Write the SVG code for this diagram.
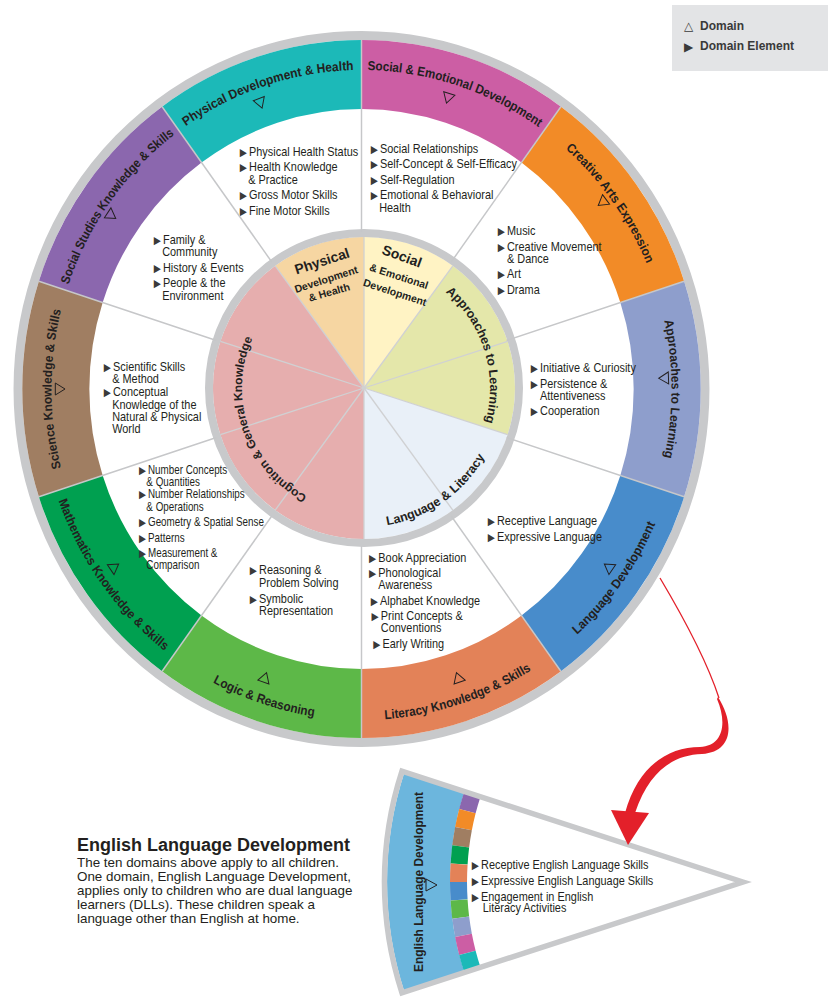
<svg xmlns="http://www.w3.org/2000/svg" width="832" height="1002" viewBox="0 0 832 1002">
<style>
.el{font-family:"Liberation Sans",Arial,sans-serif;font-size:13px;fill:#231f20}
.el12{font-family:"Liberation Sans",Arial,sans-serif;font-size:12px;fill:#231f20}
.b{font-family:"DejaVu Sans",sans-serif;font-size:11px;fill:#3a3a3a}
.rl{font-family:"Liberation Sans",Arial,sans-serif;font-weight:bold;font-size:13px;fill:#231f20}
.pl{font-family:"Liberation Sans",Arial,sans-serif;font-weight:bold;fill:#231f20}
.seg{fill:none;stroke-width:69}
.tri{fill:none;stroke:#231f20;stroke-width:1}
.lg{font-family:"Liberation Sans",Arial,sans-serif;font-weight:bold;font-size:12px;fill:#3a3a3a}
.strip{fill:none;stroke-width:17}
</style>
<defs>
<path id="tri" class="tri" d="M-6,-5 L6,-5 L0,5 Z"/>
<path id="cwArc" d="M0,319 A319,319 0 1 1 0,-319 A319,319 0 1 1 0,319"/>
<path id="ccwArc" d="M0,-331 A331,331 0 1 0 0,331 A331,331 0 1 0 0,-331"/>
<path id="pcw1" d="M0,126 A126,126 0 1 1 0,-126 A126,126 0 1 1 0,126"/>
<path id="pcw2" d="M0,122 A122,122 0 1 1 0,-122 A122,122 0 1 1 0,122"/>
<path id="pccw" d="M0,-139 A139,139 0 1 0 0,139 A139,139 0 1 0 0,-139"/>
</defs>
<rect width="832" height="1002" fill="#fff"/>

<g id="outer-ring" transform="translate(361.5,389) scale(0.972,1)">
<circle r="353.5" fill="none" stroke="#c8c9cb" stroke-width="9"/>
</g>

<g id="core-wheel">
<g id="core-physical">
<path d="M364,388 L275.2,265.8 A151,151 0 0 1 364,237 Z" fill="#F6D6A2"/>
</g>
<g id="core-social">
<path d="M364,388 L364,237 A151,151 0 0 1 452.8,265.8 Z" fill="#FFF3C4"/>
</g>
<g id="core-approaches">
<path d="M364,388 L452.8,265.8 A151,151 0 0 1 507.6,434.7 Z" fill="#E4E7AA"/>
</g>
<g id="core-language">
<path d="M364,388 L507.6,434.7 A151,151 0 0 1 364,539 Z" fill="#E9F0F8"/>
</g>
<g id="core-cognition">
<path d="M364,388 L364,539 A151,151 0 0 1 275.2,265.8 Z" fill="#E6AEAE"/>
</g>
<g stroke="#d0d1d3" stroke-width="1.3">
<line x1="364" y1="388" x2="364" y2="237"/>
<line x1="364" y1="388" x2="452.8" y2="265.8"/>
<line x1="364" y1="388" x2="507.6" y2="341.3"/>
<line x1="364" y1="388" x2="507.6" y2="434.7"/>
<line x1="364" y1="388" x2="452.8" y2="510.2"/>
<line x1="364" y1="388" x2="364" y2="539"/>
<line x1="364" y1="388" x2="275.2" y2="510.2"/>
<line x1="364" y1="388" x2="220.4" y2="434.7"/>
<line x1="364" y1="388" x2="220.4" y2="341.3"/>
<line x1="364" y1="388" x2="275.2" y2="265.8"/>
</g>
<circle cx="364" cy="388" r="155" fill="none" stroke="#c8c9cb" stroke-width="8"/>
<text class="pl" font-size="14" text-anchor="middle" transform="translate(322,261) rotate(-18)" y="5">Physical</text>
<text class="pl" font-size="10.5" text-anchor="middle" transform="translate(326,279) rotate(-18)" y="4">Development</text>
<text class="pl" font-size="10.5" text-anchor="middle" transform="translate(329,292) rotate(-16)" y="4">&amp; Health</text>
<text class="pl" font-size="14" text-anchor="middle" transform="translate(402,256) rotate(20)" y="5">Social</text>
<text class="pl" font-size="10.5" text-anchor="middle" transform="translate(399,276) rotate(18)" y="4">&amp; Emotional</text>
<text class="pl" font-size="10.5" text-anchor="middle" transform="translate(395,292) rotate(18)" y="4">Development</text>
<text class="pl" font-size="12.5" text-anchor="middle" transform="translate(364,388)"><textPath href="#pcw1" startOffset="70.3%">Approaches to Learning</textPath></text>
<text class="pl" font-size="12.5" text-anchor="middle" transform="translate(364,388)"><textPath href="#pccw" startOffset="59.7%">Language &amp; Literacy</textPath></text>
<text class="pl" font-size="12" text-anchor="middle" transform="translate(364,388)"><textPath href="#pcw2" startOffset="19.7%">Cognition &amp; General Knowledge</textPath></text>
</g>

<g id="social-emotional-development">
<g transform="translate(361.5,389) scale(0.972,1)">
<path class="seg" stroke="#CC5EA4" d="M0,-314.5 A314.5,314.5 0 0 1 184.9,-254.4"/>
<text class="rl" text-anchor="middle"><textPath href="#cwArc" startOffset="55%" textLength="188" lengthAdjust="spacingAndGlyphs">Social &amp; Emotional Development</textPath></text>
<use href="#tri" transform="rotate(17) translate(0,-304)"/>
</g>
<g transform="matrix(0.84 0 0 1 60.8 0)">
<text class="el"><tspan class="b" x="369" y="153">▶</tspan><tspan x="380">Social Relationships</tspan></text>
<text class="el"><tspan class="b" x="369" y="168">▶</tspan><tspan x="380">Self-Concept &amp; Self-Efficacy</tspan></text>
<text class="el"><tspan class="b" x="369" y="184">▶</tspan><tspan x="380">Self-Regulation</tspan></text>
<text class="el"><tspan class="b" x="369" y="199">▶</tspan><tspan x="380">Emotional &amp; Behavioral</tspan></text>
<text class="el" x="379" y="212">Health</text>
</g>
</g>

<g id="creative-arts-expression">
<g transform="translate(361.5,389) scale(0.972,1)">
<path class="seg" stroke="#F28B27" d="M184.9,-254.4 A314.5,314.5 0 0 1 299.1,-97.2"/>
<text class="rl" text-anchor="middle"><textPath href="#cwArc" startOffset="65%" textLength="143" lengthAdjust="spacingAndGlyphs">Creative Arts Expression</textPath></text>
<use href="#tri" transform="rotate(53) translate(0,-310)"/>
</g>
<g transform="matrix(0.84 0 0 1 81.12 0)">
<text class="el"><tspan class="b" x="496" y="235">▶</tspan><tspan x="507">Music</tspan></text>
<text class="el"><tspan class="b" x="496" y="251">▶</tspan><tspan x="507">Creative Movement</tspan></text>
<text class="el" x="507" y="263">&amp; Dance</text>
<text class="el"><tspan class="b" x="496" y="278">▶</tspan><tspan x="507">Art</tspan></text>
<text class="el"><tspan class="b" x="496" y="294">▶</tspan><tspan x="507">Drama</tspan></text>
</g>
</g>

<g id="approaches-to-learning">
<g transform="translate(361.5,389) scale(0.972,1)">
<path class="seg" stroke="#8E9ECC" d="M299.1,-97.2 A314.5,314.5 0 0 1 299.1,97.2"/>
<text class="rl" text-anchor="middle"><textPath href="#cwArc" startOffset="75%" textLength="138" lengthAdjust="spacingAndGlyphs">Approaches to Learning</textPath></text>
<use href="#tri" transform="rotate(88) translate(0,-311)"/>
</g>
<g transform="matrix(0.84 0 0 1 86.4 0)">
<text class="el"><tspan class="b" x="529" y="372">▶</tspan><tspan x="540">Initiative &amp; Curiosity</tspan></text>
<text class="el"><tspan class="b" x="529" y="388">▶</tspan><tspan x="540">Persistence &amp;</tspan></text>
<text class="el" x="540" y="400">Attentiveness</text>
<text class="el"><tspan class="b" x="529" y="415">▶</tspan><tspan x="540">Cooperation</tspan></text>
</g>
</g>

<g id="language-development">
<g transform="translate(361.5,389) scale(0.972,1)">
<path class="seg" stroke="#488CCB" d="M299.1,97.2 A314.5,314.5 0 0 1 184.9,254.4"/>
<text class="rl" text-anchor="middle"><textPath href="#ccwArc" startOffset="65%" textLength="138" lengthAdjust="spacingAndGlyphs">Language Development</textPath></text>
<use href="#tri" transform="rotate(125) translate(0,-310)"/>
</g>
<g transform="matrix(0.84 0 0 1 79.52 0)">
<text class="el"><tspan class="b" x="486" y="525">▶</tspan><tspan x="497">Receptive Language</tspan></text>
<text class="el"><tspan class="b" x="486" y="541">▶</tspan><tspan x="497">Expressive Language</tspan></text>
</g>
</g>

<g id="literacy-knowledge-skills">
<g transform="translate(361.5,389) scale(0.972,1)">
<path class="seg" stroke="#E38258" d="M184.9,254.4 A314.5,314.5 0 0 1 0,314.5"/>
<text class="rl" text-anchor="middle"><textPath href="#ccwArc" startOffset="55%" textLength="160" lengthAdjust="spacingAndGlyphs">Literacy Knowledge &amp; Skills</textPath></text>
<use href="#tri" transform="rotate(161) translate(0,-305)"/>
</g>
<g transform="matrix(0.84 0 0 1 60.8 0)">
<text class="el"><tspan class="b" x="367" y="562">▶</tspan><tspan x="378">Book Appreciation</tspan></text>
<text class="el"><tspan class="b" x="367" y="577">▶</tspan><tspan x="378">Phonological</tspan></text>
<text class="el" x="378" y="589">Awareness</text>
<text class="el"><tspan class="b" x="369" y="605">▶</tspan><tspan x="380">Alphabet Knowledge</tspan></text>
<text class="el"><tspan class="b" x="370" y="620">▶</tspan><tspan x="381">Print Concepts &amp;</tspan></text>
<text class="el" x="381" y="632">Conventions</text>
<text class="el"><tspan class="b" x="372" y="648">▶</tspan><tspan x="383">Early Writing</tspan></text>
</g>
</g>

<g id="logic-reasoning">
<g transform="translate(361.5,389) scale(0.972,1)">
<path class="seg" stroke="#5DB848" d="M0,314.5 A314.5,314.5 0 0 1 -184.9,254.4"/>
<text class="rl" text-anchor="middle"><textPath href="#ccwArc" startOffset="45%" textLength="110" lengthAdjust="spacingAndGlyphs">Logic &amp; Reasoning</textPath></text>
<use href="#tri" transform="rotate(199) translate(0,-305)"/>
</g>
<g transform="matrix(0.84 0 0 1 41.44 0)">
<text class="el"><tspan class="b" x="248" y="574">▶</tspan><tspan x="259">Reasoning &amp;</tspan></text>
<text class="el" x="259" y="587">Problem Solving</text>
<text class="el"><tspan class="b" x="248" y="603">▶</tspan><tspan x="259">Symbolic</tspan></text>
<text class="el" x="259" y="615">Representation</text>
</g>
</g>

<g id="mathematics-knowledge-skills">
<g transform="translate(361.5,389) scale(0.972,1)">
<path class="seg" stroke="#00A050" d="M-184.9,254.4 A314.5,314.5 0 0 1 -299.1,97.2"/>
<text class="rl" text-anchor="middle"><textPath href="#ccwArc" startOffset="35%" textLength="188" lengthAdjust="spacingAndGlyphs">Mathematics Knowledge &amp; Skills</textPath></text>
<use href="#tri" transform="rotate(235) translate(0,-310)"/>
</g>
<g transform="matrix(0.82 0 0 1 26.64 0)">
<text class="el12"><tspan class="b" x="137" y="474">▶</tspan><tspan x="148">Number Concepts</tspan></text>
<text class="el12" x="146" y="486">&amp; Quantities</text>
<text class="el12"><tspan class="b" x="137" y="498">▶</tspan><tspan x="148">Number Relationships</tspan></text>
<text class="el12" x="146" y="511">&amp; Operations</text>
<text class="el12"><tspan class="b" x="137" y="526">▶</tspan><tspan x="148">Geometry &amp; Spatial Sense</tspan></text>
<text class="el12"><tspan class="b" x="137" y="542">▶</tspan><tspan x="148">Patterns</tspan></text>
<text class="el12"><tspan class="b" x="137" y="557">▶</tspan><tspan x="148">Measurement &amp;</tspan></text>
<text class="el12" x="146" y="569">Comparison</text>
</g>
</g>

<g id="science-knowledge-skills">
<g transform="translate(361.5,389) scale(0.972,1)">
<path class="seg" stroke="#A07E62" d="M-299.1,97.2 A314.5,314.5 0 0 1 -299.1,-97.2"/>
<text class="rl" text-anchor="middle"><textPath href="#cwArc" startOffset="25%" textLength="160" lengthAdjust="spacingAndGlyphs">Science Knowledge &amp; Skills</textPath></text>
<use href="#tri" transform="rotate(270) translate(0,-310)"/>
</g>
<g transform="matrix(0.84 0 0 1 18.08 0)">
<text class="el"><tspan class="b" x="102" y="371">▶</tspan><tspan x="113">Scientific Skills</tspan></text>
<text class="el" x="112" y="383">&amp; Method</text>
<text class="el"><tspan class="b" x="102" y="396">▶</tspan><tspan x="113">Conceptual</tspan></text>
<text class="el" x="112" y="409">Knowledge of the</text>
<text class="el" x="112" y="421">Natural &amp; Physical</text>
<text class="el" x="112" y="433">World</text>
</g>
</g>

<g id="social-studies-knowledge-skills">
<g transform="translate(361.5,389) scale(0.972,1)">
<path class="seg" stroke="#8B67AE" d="M-299.1,-97.2 A314.5,314.5 0 0 1 -184.9,-254.4"/>
<text class="rl" text-anchor="middle"><textPath href="#cwArc" startOffset="35%" textLength="188" lengthAdjust="spacingAndGlyphs">Social Studies Knowledge &amp; Skills</textPath></text>
<use href="#tri" transform="rotate(304) translate(0,-310)"/>
</g>
<g transform="matrix(0.84 0 0 1 26.08 0)">
<text class="el"><tspan class="b" x="152" y="244">▶</tspan><tspan x="163">Family &amp;</tspan></text>
<text class="el" x="162" y="256">Community</text>
<text class="el"><tspan class="b" x="152" y="272">▶</tspan><tspan x="163">History &amp; Events</tspan></text>
<text class="el"><tspan class="b" x="152" y="287">▶</tspan><tspan x="163">People &amp; the</tspan></text>
<text class="el" x="162" y="300">Environment</text>
</g>
</g>

<g id="physical-development-health">
<g transform="translate(361.5,389) scale(0.972,1)">
<path class="seg" stroke="#1CB9B8" d="M-184.9,-254.4 A314.5,314.5 0 0 1 0,-314.5"/>
<text class="rl" text-anchor="middle"><textPath href="#cwArc" startOffset="45%" textLength="184" lengthAdjust="spacingAndGlyphs">Physical Development &amp; Health</textPath></text>
<use href="#tri" transform="rotate(340) translate(0,-304)"/>
</g>
<g transform="matrix(0.84 0 0 1 39.84 0)">
<text class="el"><tspan class="b" x="238" y="156">▶</tspan><tspan x="249">Physical Health Status</tspan></text>
<text class="el"><tspan class="b" x="238" y="171">▶</tspan><tspan x="249">Health Knowledge</tspan></text>
<text class="el" x="248" y="184">&amp; Practice</text>
<text class="el"><tspan class="b" x="238" y="199">▶</tspan><tspan x="249">Gross Motor Skills</tspan></text>
<text class="el"><tspan class="b" x="238" y="215">▶</tspan><tspan x="249">Fine Motor Skills</tspan></text>
</g>
</g>

<g id="dividers" transform="translate(361.5,389) scale(0.972,1)" stroke="#c6c7c9" stroke-width="1.5">
<line x1="0" y1="-157" x2="0" y2="-349"/>
<line x1="92.3" y1="-127" x2="205.1" y2="-282.3"/>
<line x1="149.3" y1="-48.5" x2="331.9" y2="-107.8"/>
<line x1="149.3" y1="48.5" x2="331.9" y2="107.8"/>
<line x1="92.3" y1="127" x2="205.1" y2="282.3"/>
<line x1="0" y1="157" x2="0" y2="349"/>
<line x1="-92.3" y1="127" x2="-205.1" y2="282.3"/>
<line x1="-149.3" y1="48.5" x2="-331.9" y2="107.8"/>
<line x1="-149.3" y1="-48.5" x2="-331.9" y2="-107.8"/>
<line x1="-92.3" y1="-127" x2="-205.1" y2="-282.3"/>
</g>

<g id="english-language-development">
<path d="M743,882 L402,771.2 A358.5,358.5 0 0 0 402,992.8 Z" fill="#fff"/>
<path d="M434.4,781.7 A324.5,324.5 0 0 0 434.4,982.3" fill="none" stroke="#6CB6DD" stroke-width="63"/>
<path class="strip" stroke="#8B67AE" d="M472.4,794.1 A284.5,284.5 0 0 0 467.4,811.2"/>
<path class="strip" stroke="#F28B27" d="M467.4,811.2 A284.5,284.5 0 0 0 463.5,828.7"/>
<path class="strip" stroke="#A07E62" d="M463.5,828.7 A284.5,284.5 0 0 0 460.7,846.4"/>
<path class="strip" stroke="#00A050" d="M460.7,846.4 A284.5,284.5 0 0 0 459.1,864.1"/>
<path class="strip" stroke="#E38258" d="M459.1,864.1 A284.5,284.5 0 0 0 458.5,882"/>
<path class="strip" stroke="#488CCB" d="M458.5,882 A284.5,284.5 0 0 0 459.1,899.9"/>
<path class="strip" stroke="#5DB848" d="M459.1,899.9 A284.5,284.5 0 0 0 460.7,917.6"/>
<path class="strip" stroke="#8E9ECC" d="M460.7,917.6 A284.5,284.5 0 0 0 463.5,935.3"/>
<path class="strip" stroke="#CC5EA4" d="M463.5,935.3 A284.5,284.5 0 0 0 467.4,952.8"/>
<path class="strip" stroke="#1CB9B8" d="M467.4,952.8 A284.5,284.5 0 0 0 472.4,969.9"/>
<path d="M743,882 L402,771.2 A358.5,358.5 0 0 0 402,992.8 Z" fill="none" stroke="#c8c9cb" stroke-width="5.5"/>
<text class="rl" text-anchor="middle" transform="translate(423,882) rotate(-90)" textLength="180" lengthAdjust="spacingAndGlyphs">English Language Development</text>
<path class="tri" d="M426,879 L426,891 L437,885 Z"/>
<g transform="matrix(0.84 0 0 1 76.96 0)">
<text class="el"><tspan class="b" x="470" y="869">▶</tspan><tspan x="481">Receptive English Language Skills</tspan></text>
<text class="el"><tspan class="b" x="470" y="885">▶</tspan><tspan x="481">Expressive English Language Skills</tspan></text>
<text class="el"><tspan class="b" x="470" y="901">▶</tspan><tspan x="481">Engagement in English</tspan></text>
<text class="el" x="483" y="912">Literacy Activities</text>
</g>
</g>

<g id="legend">
<rect x="672" y="5" width="156" height="66" fill="#e3e4e6"/>
<text class="lg"><tspan x="684" y="30" font-family="DejaVu Sans" font-weight="normal" font-size="12">△</tspan><tspan x="700">Domain</tspan></text>
<text class="lg"><tspan x="684" y="51" font-family="DejaVu Sans" font-size="12">▶</tspan><tspan x="700" y="50">Domain Element</tspan></text>
</g>

<g id="eld-note">
<text x="77" y="851" font-family="Liberation Sans, Arial, sans-serif" font-weight="bold" font-size="18" fill="#231f20">English Language Development</text>
<text font-family="Liberation Sans, Arial, sans-serif" font-size="13.4" fill="#231f20">
<tspan x="77" y="867">The ten domains above apply to all children.</tspan>
<tspan x="77" y="881">One domain, English Language Development,</tspan>
<tspan x="77" y="895">applies only to children who are dual language</tspan>
<tspan x="77" y="909">learners (DLLs). These children speak a</tspan>
<tspan x="77" y="923">language other than English at home.</tspan>
</text>
</g>

<g id="connectors">
<path d="M660,578 C682,615 706,658 719,698" fill="none" stroke="#E3202A" stroke-width="1.3"/>
<path d="M718,697 C734,722 734,752 702,754 C672,755 649,772 635,813 L625,813 C638,766 668,747 700,747 C724,746 727,722 717,699 Z" fill="#E3202A"/>
<polygon points="611,810 649,813 628,845" fill="#E3202A"/>
</g>
</svg>
